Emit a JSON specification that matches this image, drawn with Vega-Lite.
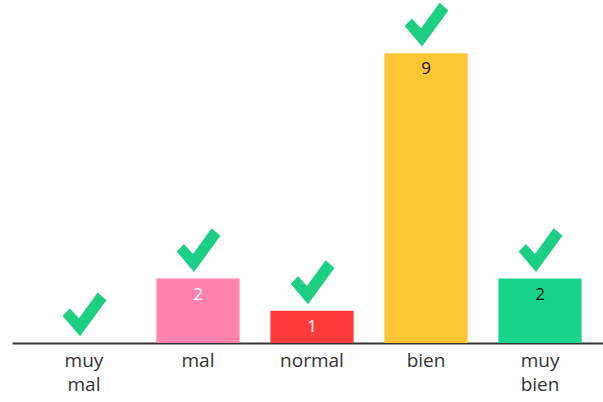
{
  "$schema": "https://vega.github.io/schema/vega-lite/v6.json",
  "width": 591,
  "height": 343,
  "autosize": {"type": "none"},
  "padding": {"left": 12, "top": 0, "right": 0, "bottom": 59},
  "background": "white",
  "config": {"view": {"stroke": null}},
  "data": {
    "values": [
      {"cat": "muy mal", "value": 0},
      {"cat": "mal", "value": 2},
      {"cat": "normal", "value": 1},
      {"cat": "bien", "value": 9},
      {"cat": "muy bien", "value": 2}
    ]
  },
  "encoding": {
    "x": {
      "field": "cat",
      "type": "nominal",
      "sort": null,
      "scale": {
        "domain": ["muy mal", "mal", "normal", "bien", "muy bien"],
        "paddingInner": 0.27,
        "paddingOuter": 0.227,
        "align": 0.587
      },
      "axis": {
        "title": null,
        "ticks": false,
        "domainColor": "#333333",
        "domainWidth": 2,
        "labelAngle": 0,
        "labelFont": "Open Sans",
        "labelFontSize": 19,
        "labelColor": "#333333",
        "labelPadding": 8,
        "labelLineHeight": 24,
        "labelBaseline": "top",
        "labelExpr": "split(datum.label, ' ')"
      }
    },
    "y": {
      "field": "value",
      "type": "quantitative",
      "scale": {"domain": [0, 10.65], "nice": false, "zero": true},
      "axis": null
    }
  },
  "layer": [
    {
      "transform": [{"filter": "datum.value > 0"}],
      "mark": {"type": "bar"},
      "encoding": {
        "color": {
          "field": "cat",
          "type": "nominal",
          "scale": {
            "domain": ["muy mal", "mal", "normal", "bien", "muy bien"],
            "range": ["#cccccc", "#FF82AC", "#FF3B3B", "#FFC535", "#18D48A"]
          },
          "legend": null
        }
      }
    },
    {
      "transform": [{"filter": "datum.value > 0"}],
      "mark": {"type": "text", "baseline": "middle", "dy": 16, "fontSize": 17, "font": "Open Sans"},
      "encoding": {
        "text": {"field": "value", "type": "quantitative"},
        "color": {
          "condition": {"test": "datum.cat == 'mal' || datum.cat == 'normal'", "value": "white"},
          "value": "#111111"
        }
      }
    },
    {
      "mark": {
        "type": "point",
        "shape": "M-0.97,0.04L-0.64,-0.3L-0.23,0.15L0.62,-1.02L1.02,-0.67L-0.18,0.97Z",
        "filled": true,
        "size": 1936,
        "opacity": 1,
        "color": "#1DCF85",
        "yOffset": -28
      },
      "encoding": {}
    }
  ]
}
